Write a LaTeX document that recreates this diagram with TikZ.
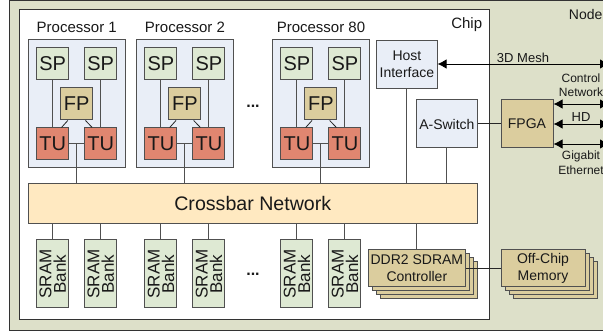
\documentclass[tikz,border=0pt]{standalone}
\usepackage{fontspec}
\setmainfont{Liberation Sans}
\usetikzlibrary{arrows.meta}
\definecolor{nodebg}{HTML}{DDE0C9}
\definecolor{procbg}{HTML}{E9EEF7}
\definecolor{spbg}{HTML}{DEE9D3}
\definecolor{fpbg}{HTML}{DBCD9E}
\definecolor{tubg}{HTML}{E08670}
\definecolor{xbarbg}{HTML}{FFE9C1}
\definecolor{edgegray}{HTML}{505050}
\tikzset{
  fs/.style={font=\fontsize{#1}{17}\selectfont},
  boxed/.style={draw=edgegray,line width=1pt,inner sep=0pt,align=center,text=black!90},
  smallblock/.style={boxed,minimum width=32pt,minimum height=32pt,fs=20},
  spblock/.style={smallblock,fill=spbg},
  fpblock/.style={smallblock,fill=fpbg},
  tublock/.style={smallblock,fill=tubg},
  procbox/.style={boxed,fill=procbg,minimum width=96.5pt,minimum height=128pt},
  srblock/.style={boxed,fill=spbg,rotate=90,minimum width=68pt,minimum height=32pt,font=\fontsize{17}{14.5}\selectfont},
  bluebox/.style={boxed,fill=procbg,font=\fontsize{14}{17}\selectfont},
  tanbox/.style={boxed,fill=fpbg,font=\fontsize{14}{17}\selectfont},
  lbl/.style={inner sep=0pt,align=center,text=black!90},
  wire/.style={draw=edgegray,line width=1pt},
  thinwire/.style={draw=black!85,line width=0.8pt},
  biarrow/.style={draw=black,line width=0.9pt,{Latex[length=9pt,width=9.5pt]}-{Latex[length=9pt,width=9.5pt]}},
  stackdim/.style={minimum width=96.3pt,minimum height=36.7pt},
  memdim/.style={minimum width=84pt,minimum height=36.7pt},
}
\begin{document}
\begin{tikzpicture}[x=1pt,y=-1pt]
\useasboundingbox (0,0) rectangle (603,331);
\clip (0,0) rectangle (603,331);
\path[fill=white] (0,0) rectangle (603,331);
\path[draw=black!80,fill=nodebg,line width=1pt] (9,0.5) rectangle (612,330.5);
\path[draw=black!80,fill=white,line width=1pt] (19,10) rectangle (489,320);
\node[lbl,fs=14,anchor=west] (nodelbl) at (568.7,14) {Node};
\node[lbl,fs=15] (chiplbl) at (466.7,25) {Chip};

\node[boxed,fill=xbarbg,minimum width=448.5pt,minimum height=40pt,fs=19.6] (xbar) at (252.75,203.5) {Crossbar Network};

\foreach \p/\x/\t in {a/28.5/Processor 1,b/136.7/Processor 2,c/272.7/Processor 80}{
  \node[procbox] (proc\p) at (\x+48.25,104) {};
  \node[lbl,fs=15] (ptitle\p) at (\x+48.25,27) {\t};
  \node[spblock] (spl\p) at (\x+24.2,64) {SP};
  \node[spblock] (spr\p) at (\x+72.2,64) {SP};
  \draw[wire] (spl\p) -- (\x+24.2,144);
  \draw[wire] (spr\p) -- (\x+72.2,144);
  \node[fpblock] (fp\p) at (\x+48.2,104) {FP};
  \node[tublock] (tul\p) at (\x+24.2,144) {TU};
  \node[tublock] (tur\p) at (\x+72.2,144) {TU};
  \draw[wire] (tul\p) -- (tur\p) coordinate[midway] (mid\p);
  \draw[wire] (mid\p) -- (mid\p |- xbar.north);
  \draw[thinwire] ([xshift=7.6pt]fp\p.south west) -- ([xshift=-7.7pt]tul\p.north east);
  \draw[thinwire] ([xshift=-7.7pt]fp\p.south east) -- ([xshift=8pt]tur\p.north west);
  \node[srblock] (srl\p) at (\x+24.2,274) {SRAM\\Bank};
  \node[srblock] (srr\p) at (\x+72.2,274) {SRAM\\Bank};
  \draw[wire] (srl\p.east |- xbar.south) -- (srl\p.east);
  \draw[wire] (srr\p.east |- xbar.south) -- (srr\p.east);
}
\node[lbl,font=\fontsize{16}{17}\selectfont\bfseries] (dotsa) at (253,106) {...};
\node[lbl,font=\fontsize{16}{17}\selectfont\bfseries] (dotsb) at (253,274) {...};

\node[bluebox,minimum width=60.3pt,minimum height=47.3pt] (host) at (406.9,64.4) {Host\\Interface};
\node[bluebox,minimum width=60.3pt,minimum height=48pt] (asw) at (446.9,124) {A-Switch};
\node[tanbox,minimum width=52pt,minimum height=48pt] (fpga) at (527,124) {FPGA};
\draw[wire] (host.south) -- (host.south |- xbar.north);
\draw[wire] (asw.south) -- (asw.south |- xbar.north);
\draw[thinwire,line width=1pt] (asw) -- (fpga);

\foreach \d in {3,2,1}{
  \node[tanbox,stackdim] (ddr\d) at (416.85+4*\d,268.35+4*\d) {};
  \node[tanbox,memdim] (mem\d) at (543+4*\d,268.35+4*\d) {};
}
\node[tanbox,stackdim] (ddr) at (416.85,268.35) {DDR2 SDRAM\\Controller};
\node[tanbox,memdim] (mem) at (543,268.35) {Off-Chip\\Memory};
\draw[wire] (ddr.north |- xbar.south) -- (ddr.north);
\draw[thinwire,line width=1pt] (ddr) -- (mem);

\coordinate (meshend) at (609,64);
\coordinate (ctlend) at (609,104);
\coordinate (hdend) at (609,124);
\coordinate (gigend) at (609,144);
\draw[biarrow] (host.east |- meshend) -- (meshend);
\draw[biarrow] (fpga.east |- ctlend) -- (ctlend);
\draw[biarrow] (fpga.east |- hdend) -- (hdend);
\draw[biarrow] (fpga.east |- gigend) -- (gigend);

\node[lbl,fs=13] (meshlbl) at (523,57.5) {3D Mesh};
\node[lbl,font=\fontsize{12}{14.5}\selectfont] (ctllbl) at (581,85) {Control\\Network};
\node[lbl,fs=13] (hdlbl) at (581,117) {HD};
\node[lbl,font=\fontsize{12}{14.5}\selectfont] (giglbl) at (581,162.5) {Gigabit\\Ethernet};
\end{tikzpicture}
\end{document}
